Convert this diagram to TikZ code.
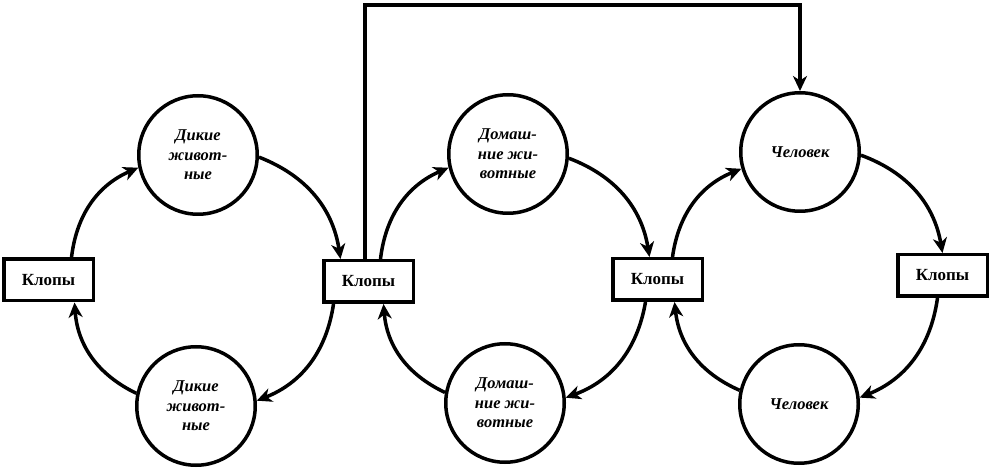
\documentclass[tikz,border=0pt]{standalone}
\usepackage{fontspec}
\setmainfont{Liberation Serif}
\usetikzlibrary{arrows.meta,calc}
\tikzset{
  bug/.style={draw, line width=3.5pt, minimum width=89.5pt, minimum height=41.5pt, inner sep=0pt,
    font=\fontsize{17}{20}\selectfont\bfseries},
  host/.style={draw, circle, line width=3.5pt, minimum size=118.5pt, inner sep=0pt, align=center,
    font=\fontsize{16.5}{19.5}\selectfont\bfseries\itshape},
  tip/.style={-{Stealth[length=15pt,width=14pt,inset=4.5pt]}},
  flow/.style={line width=3.5pt, tip, bend left=30},
}
\begin{document}
\begin{tikzpicture}[x=1pt,y=1pt]
\useasboundingbox (0,0) rectangle (991,469);
\node[host] (c1) at (198,314) {Дикие\\живот-\\ные};
\node[host] (c2) at (196,63) {Дикие\\живот-\\ные};
\node[host] (c3) at (508,315) {Домаш-\\ние жи-\\вотные};
\node[host] (c4) at (505,66) {Домаш-\\ние жи-\\вотные};
\node[host] (c5) at (800,317) {Человек};
\node[host] (c6) at (799,65) {Человек};
\node[bug] (k1) at (48.5,189) {Клопы};
\node[bug] (k2) at (368.5,187.5) {Клопы};
\node[bug] (k3) at (657.5,189.5) {Клопы};
\node[bug] (k4) at (942.5,193.5) {Клопы};
% left loop
\draw[flow] ([xshift=23pt]k1.north) to (c1.192);
\draw[flow] (c1.358) to ([xshift=-28pt]k2.north);
\draw[flow] ([xshift=-35pt]k2.south) to (c2.5);
\draw[flow] (c2.168) to ([xshift=26pt]k1.south);
% middle loop
\draw[flow] ([xshift=12pt]k2.north) to (c3.193);
\draw[flow] (c3.356) to ([xshift=-8pt]k3.north);
\draw[flow] ([xshift=-12pt]k3.south) to (c4.5);
\draw[flow] (c4.170) to ([xshift=15pt]k2.south);
% right loop
\draw[flow] ([xshift=15pt]k3.north) to (c5.196);
\draw[flow] (c5.357) to (k4.north);
\draw[flow] ([xshift=-5pt]k4.south) to (c6.6);
\draw[flow] (c6.167) to ([xshift=17pt]k3.south);
% long connector
\coordinate (t1) at ($(k2.north)+(-3.5,0)$);
\draw[line width=3.5pt, tip]
  (t1) -- (t1 |- 0,464) -- (c5.north |- 0,464) -- (c5.north);
\end{tikzpicture}
\end{document}
